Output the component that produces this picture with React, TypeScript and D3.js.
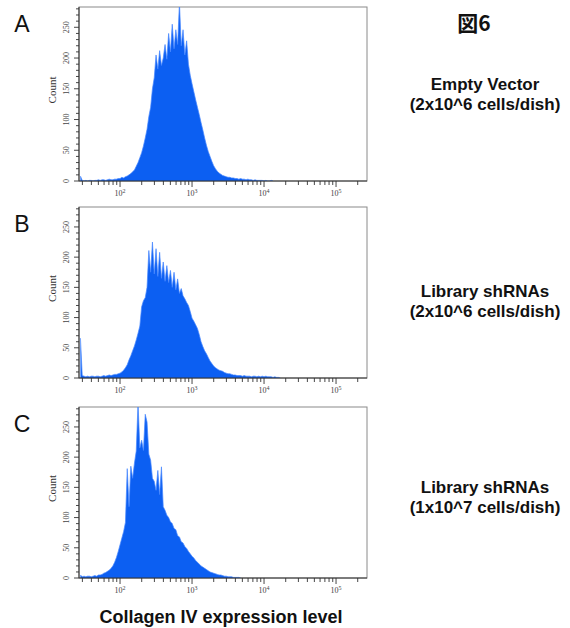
import React from 'react';
import * as d3 from 'd3';

// ---- data ----
const binStartLog = 1.45; // log10 of the first histogram channel
const binStepLog = 0.025; // log10 width of a channel

const countsA = [
  8, 1, 0, 1, 0, 1, 1, 0, 1, 1, 2, 1, 2, 2, 1, 2, 3, 2,
  2, 3, 3, 4, 4, 6, 5, 7, 8, 10, 12, 15, 18, 24, 30, 38, 46, 57, 70, 84,
  105, 120, 150, 168, 205, 182, 212, 188, 200, 222, 198, 240, 210, 255, 215, 246,
  222, 290, 220, 246, 205, 228, 190, 172, 158, 145, 132, 120, 108, 95, 83, 70,
  58, 48, 40, 32, 25, 20, 16, 13, 11, 9, 8, 7, 6, 6, 5, 5, 4, 4, 3, 4, 3, 3,
  2, 3, 2, 2, 1, 2, 1, 1, 1, 1, 0, 1, 0, 0, 1, 0,
];

const countsB = [
  66, 4, 3, 2, 3, 2, 3, 3, 2, 3,
  3, 2, 3, 4, 3, 4, 5, 4, 5, 6, 6, 7, 8, 10, 13, 17, 22, 30, 37, 45, 53, 63, 74, 86,
  118, 128, 133, 150, 211, 175, 225, 172, 214, 168, 208, 165, 192, 160, 186, 158,
  178, 150, 175, 146, 164, 140, 148, 136, 131, 125, 120, 110, 99, 94, 88, 82, 72,
  60, 52, 45, 40, 34, 28, 24, 20, 17, 15, 13, 12, 11, 9, 8, 7, 7, 6, 5, 5, 4, 4,
  4, 3, 4, 3, 3, 3, 2, 3, 3, 2, 3, 2, 3, 2, 3, 2, 2, 2, 1, 2, 1, 1, 0,
];

const countsC = [
  5, 2, 3, 2, 3, 3, 2, 3, 4, 3, 5, 5, 6, 8, 9, 11, 13, 16, 20, 26, 34, 44, 55, 66,
  77, 92, 181, 118, 185, 165, 190, 210, 290, 215, 228, 211, 271, 258, 205, 195,
  165, 160, 145, 178, 138, 184, 118, 112, 104, 100, 93, 90, 82, 80, 70, 68, 60, 58,
  52, 49, 44, 40, 36, 33, 29, 26, 23, 20, 18, 16, 14, 12, 10, 9, 8, 7, 6, 5, 5, 4,
  3, 3, 2, 2, 2, 1, 1, 1, 1, 0,
];

const panelLetters = ['A', 'B', 'C'];
const conditionNames = ['Empty Vector', 'Library shRNAs', 'Library shRNAs'];
const conditionDensities = ['(2x10^6 cells/dish)', '(2x10^6 cells/dish)', '(1x10^7 cells/dish)'];
const yTickLabels = [0, 50, 100, 150, 200, 250];
const xDecadeLabels = [2, 3, 4, 5];
const figureLabel = '図6';
const xAxisTitle = 'Collagen IV expression level';
const yAxisTitle = 'Count';

const allCounts = [countsA, countsB, countsC];

// ---- layout ----
const W = 570;
const H = 628;
const plotLeft = 79;
const plotRight = 367;
const panelTops = [7, 207, 407];
const panelBottoms = [181, 378, 578];
const titleOffsets = [83, 90, 86];
const yMax = 283;
const logMin = 1.43;
const logMax = 5.43;
const fillBlue = '#0c5ff2';
const strokeBlue = '#4686ff';
const serif = '"Liberation Serif", "DejaVu Serif", serif';
const sans = '"Liberation Sans", Arial, Helvetica, sans-serif';

function Panel({ idx }: { idx: number }) {
  const top = panelTops[idx];
  const bottom = panelBottoms[idx];
  const counts = allCounts[idx];
  const x = d3.scaleLog().domain([10 ** logMin, 10 ** logMax]).range([plotLeft, plotRight]);
  const y = d3.scaleLinear().domain([0, yMax]).range([bottom, top]);
  const area = d3
    .area<number>()
    .x((_, i) => x(10 ** (binStartLog + i * binStepLog)))
    .y0(y(0))
    .y1((d) => y(d))
    .curve(d3.curveLinear);
  const line = d3
    .line<number>()
    .x((_, i) => x(10 ** (binStartLog + i * binStepLog)))
    .y((d) => y(d))
    .curve(d3.curveLinear);

  const xMinor: { v: number; major: boolean }[] = [];
  for (let n = 1; n <= 5; n++) {
    for (let k = 1; k <= 9; k++) {
      const v = k * 10 ** n;
      const lv = Math.log10(v);
      if (lv >= logMin && lv <= logMax) xMinor.push({ v, major: k === 1 });
    }
  }
  const yTicks = d3.range(0, yMax + 1, 10);
  const clipId = `clip-${idx}`;
  const tOff = titleOffsets[idx];

  return (
    <g>
      <defs>
        <clipPath id={clipId}>
          <rect x={plotLeft} y={top} width={plotRight - plotLeft} height={bottom - top} />
        </clipPath>
      </defs>
      <rect x={plotLeft} y={top} width={plotRight - plotLeft} height={bottom - top} fill="#fff" stroke="#8a8a8a" strokeWidth={1} />
      <g clipPath={`url(#${clipId})`}>
        <path d={area(counts) || ''} fill={fillBlue} />
        <path d={line(counts) || ''} fill="none" stroke={strokeBlue} strokeWidth={0.7} />
      </g>
      <line x1={plotLeft} x2={plotLeft} y1={top} y2={bottom} stroke="#333" strokeWidth={1} />
      <line x1={plotLeft} x2={plotRight} y1={bottom} y2={bottom} stroke="#333" strokeWidth={1} />
      {xMinor.map((t, i) => (
        <line key={i} x1={x(t.v)} x2={x(t.v)} y1={bottom} y2={bottom + (t.major ? 6 : 4)} stroke="#333" strokeWidth={0.9} />
      ))}
      {xDecadeLabels.map((d) => (
        <text key={d} x={x(10 ** d)} y={bottom + 15} textAnchor="middle" fontFamily={serif} fontSize={8} fill="#444">
          10<tspan dy={-3} fontSize={6}>{d}</tspan>
        </text>
      ))}
      {yTicks.map((v) => (
        <line key={v} x1={plotLeft} x2={plotLeft - (v % 50 === 0 ? 5 : 3)} y1={y(v)} y2={y(v)} stroke="#333" strokeWidth={0.9} />
      ))}
      {yTickLabels.map((v) => (
        <text
          key={v}
          transform={`translate(${plotLeft - 10},${y(v)}) rotate(-90)`}
          textAnchor="middle"
          fontFamily={serif}
          fontSize={8}
          fill="#444"
        >
          {v}
        </text>
      ))}
      <text
        transform={`translate(${plotLeft - 23},${(top + bottom) / 2 - 4}) rotate(-90)`}
        textAnchor="middle"
        fontFamily={serif}
        fontSize={11}
        fill="#333"
      >
        {yAxisTitle}
      </text>
      <text x={22} y={top + 25} textAnchor="middle" fontFamily={sans} fontSize={23} fill="#111">
        {panelLetters[idx]}
      </text>
      <text x={485} y={top + tOff} textAnchor="middle" fontFamily={sans} fontWeight="bold" fontSize={17} fill="#111">
        {conditionNames[idx]}
      </text>
      <text x={485} y={top + tOff + 20} textAnchor="middle" fontFamily={sans} fontWeight="bold" fontSize={17} fill="#111">
        {conditionDensities[idx]}
      </text>
    </g>
  );
}

export default function App() {
  return (
    <svg width={W} height={H} style={{ position: 'absolute', left: 0, top: 0, background: '#fff' }}>
      <rect width={W} height={H} fill="#fff" />
      {[0, 1, 2].map((i) => (
        <Panel key={i} idx={i} />
      ))}
      <text x={474} y={31} textAnchor="middle" fontFamily='"Noto Sans CJK JP", sans-serif' fontWeight="bold" fontSize={21} fill="#111">
        {figureLabel}
      </text>
      <text x={221} y={623} textAnchor="middle" fontFamily={sans} fontWeight="bold" fontSize={18} fill="#111">
        {xAxisTitle}
      </text>
    </svg>
  );
}
